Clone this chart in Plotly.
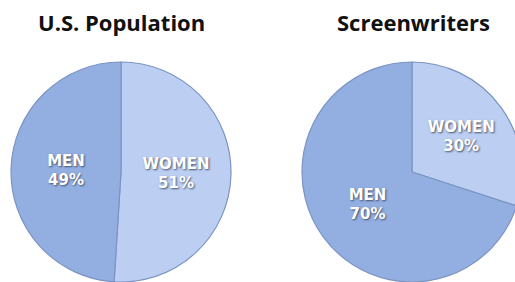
import plotly.graph_objects as go

categories = ["WOMEN", "MEN"]
us_population = [51, 49]
screenwriters = [30, 70]
titles = ["U.S. Population", "Screenwriters"]

colors = ["#BCCFF2", "#93AFE2"]
line_color = "#7C94C2"

W, H = 523, 282

fig = go.Figure()
common = dict(
    labels=categories,
    sort=False,
    direction="clockwise",
    rotation=0,
    marker=dict(colors=colors, line=dict(color=line_color, width=1.2)),
    texttemplate="%{label}<br>%{percent:.0%}",
    textposition="inside",
    insidetextorientation="horizontal",
    textfont=dict(family="DejaVu Sans", size=15, color="white", weight="bold",
                  shadow="1px 1px 2px rgba(60,70,90,0.9)"),
    showlegend=False,
    hoverinfo="label+percent",
)
fig.add_trace(go.Pie(values=us_population,
                     domain=dict(x=[11 / W, 231 / W], y=[0, 220 / H]), **common))
fig.add_trace(go.Pie(values=screenwriters,
                     domain=dict(x=[302 / W, 522 / W], y=[0, 220 / H]), **common))

for xc, t in zip([121, 413], titles):
    fig.add_annotation(text="<b>" + t + "</b>", x=xc / W, y=1 - 22 / H,
                       xref="paper", yref="paper", showarrow=False,
                       xanchor="center", yanchor="middle",
                       font=dict(family="Open Sans", size=22, color="#111111"))

fig.update_layout(width=W, height=H, margin=dict(l=0, r=0, t=0, b=0),
                  paper_bgcolor="white", plot_bgcolor="white")
fig.write_html("out.html",
               config={"displayModeBar": False},
               post_script="document.body.style.margin='0';"
                           "document.body.style.overflow='hidden';"
                           "document.documentElement.style.overflow='hidden';")
